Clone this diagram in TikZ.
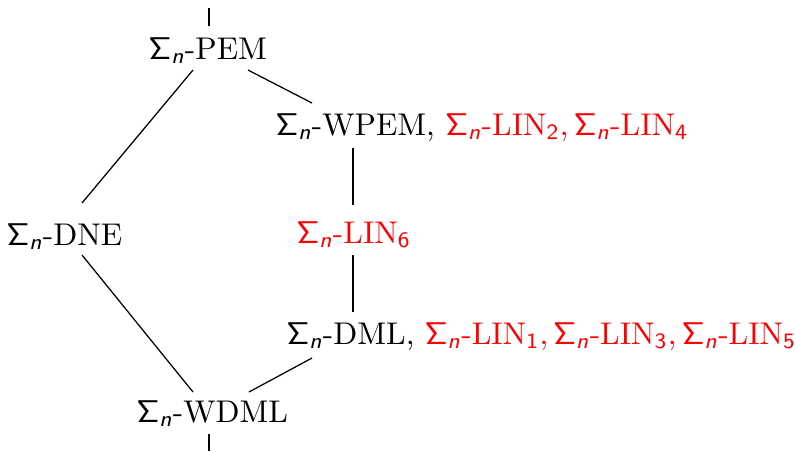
\documentclass[tikz,border=0pt]{standalone}
\usepackage{amsmath}
% Sigma_n prefix: sans-serif Sigma with an italic sans n
\newcommand{\Sn}{\ensuremath{\mathsf{\Sigma}_{\text{\sffamily\itshape n}}}}
% linearity principle with a sans index
\newcommand{\Lin}[1]{\Sn-LIN\ensuremath{_{\mathsf{#1}}}}
\tikzset{
  lbl/.style={anchor=base west, inner sep=0pt},
  link/.style={draw=black, line width=0.4pt},
  lin/.style={text=red}
}
\begin{document}
\begin{tikzpicture}[x=0.3185pt, y=-0.3185pt]
  \useasboundingbox (0,0) rectangle (795,451);

  % principles
  \node[lbl] (pem)  at (148,59)  {\Sn-PEM};
  \node[lbl] (dne)  at (6,245)   {\Sn-DNE};
  \node[lbl] (wpem) at (275,135) {\Sn-WPEM, \textcolor{red}{\Lin{2},\,\Lin{4}}};
  \node[lbl, lin] (lin6) at (296,243) {\Lin{6}};
  \node[lbl] (dml)  at (286,344) {\Sn-DML, \textcolor{red}{\Lin{1},\,\Lin{3},\,\Lin{5}}};
  \node[lbl] (wdml) at (136,422) {\Sn-WDML};

  % free ends above and below
  \coordinate (top) at ([shift={(61,-51)}]pem.base west);
  \coordinate (bot) at ([shift={(73,29)}]wdml.base west);

  % implications
  \draw[link] ([shift={(61,-33)}]pem.base west) -- (top);
  \draw[link] ([shift={(45,11)}]pem.base west) -- ([shift={(76,-42)}]dne.base west);
  \draw[link] ([shift={(100,11)}]pem.base west) -- ([shift={(37,-32)}]wpem.base west);
  \draw[link] ([shift={(78,13)}]wpem.base west) -- ([shift={(57,-38)}]lin6.base west);
  \draw[link] ([shift={(57,12)}]lin6.base west) -- ([shift={(67,-32)}]dml.base west);
  \draw[link] ([shift={(76,10)}]dne.base west) -- ([shift={(57,-30)}]wdml.base west);
  \draw[link] ([shift={(26,14)}]dml.base west) -- ([shift={(113,-30)}]wdml.base west);
  \draw[link] ([shift={(73,12)}]wdml.base west) -- (bot);
\end{tikzpicture}
\end{document}
